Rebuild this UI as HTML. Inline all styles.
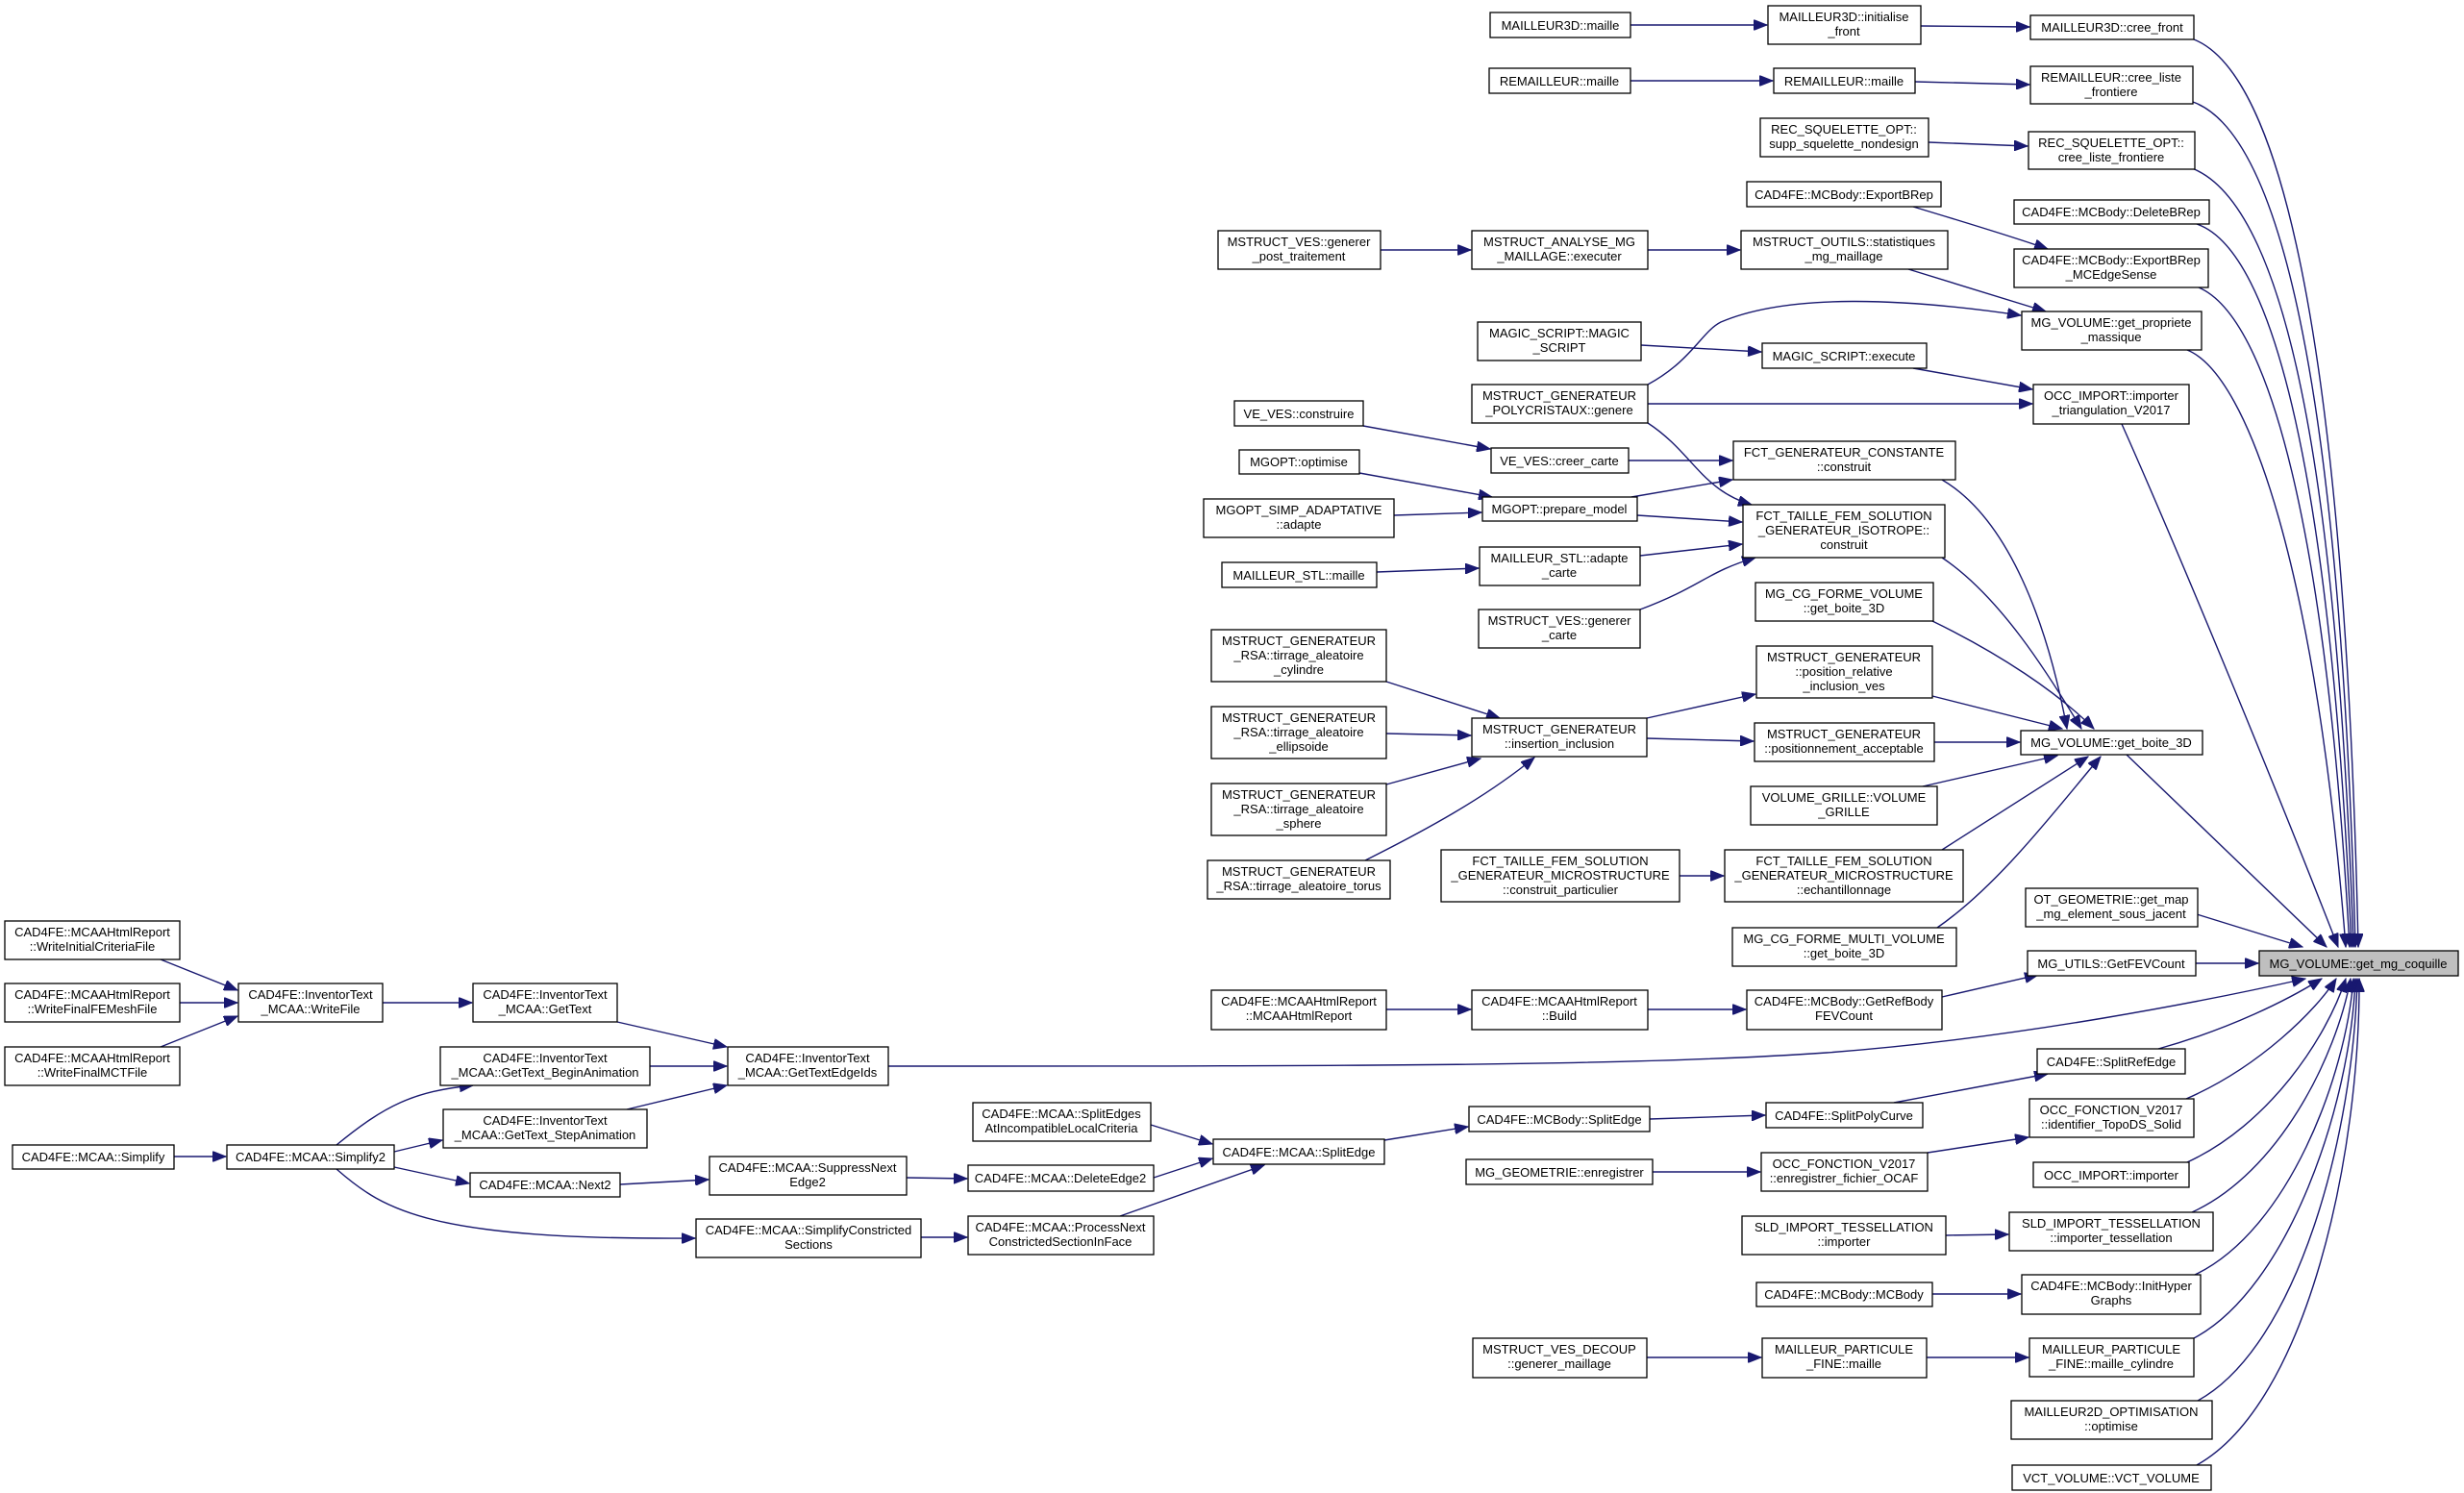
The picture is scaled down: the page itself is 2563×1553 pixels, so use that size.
<!DOCTYPE html>
<html><head><meta charset="utf-8"><style>
html,body{margin:0;padding:0;background:#fff;}
svg{display:block;}
text{font-family:"Liberation Sans",Arial,sans-serif;font-size:13px;fill:#000;text-anchor:middle;}
rect{fill:#fff;stroke:#000;stroke-width:1.3;}
path{fill:none;stroke:#191970;stroke-width:1.4;}
</style></head><body>
<svg width="2563" height="1553" viewBox="0 0 2563 1553" xmlns="http://www.w3.org/2000/svg">
<defs><marker id="a" markerUnits="userSpaceOnUse" markerWidth="15" markerHeight="11" refX="14" refY="5.5" orient="auto"><path d="M0,0 L14,5.5 L0,11 z" style="fill:#191970;stroke:#191970;stroke-width:1"/></marker></defs>
<g marker-end="url(#a)">
<path d="M2282,41 C2380,80 2440,400 2453,985"/>
<path d="M2281,106 C2375,140 2435,420 2450,985"/>
<path d="M2280,175 C2370,210 2430,450 2448,985"/>
<path d="M2285,233 C2365,260 2425,500 2446,985"/>
<path d="M2287,299 C2360,330 2420,550 2444,985"/>
<path d="M2275,364 C2340,390 2410,600 2440,985"/>
<path d="M2207,441 C2260,560 2360,800 2432,985"/>
<path d="M2212,785 L2420,985"/>
<path d="M2285,951 L2395,985"/>
<path d="M2284,1002 L2349,1002"/>
<path d="M924,1109 C1400,1109 1700,1109 1900,1095 C2100,1080 2300,1040 2398,1018"/>
<path d="M2245,1091 C2320,1070 2380,1040 2415,1018"/>
<path d="M2274,1143 C2350,1110 2410,1050 2430,1018"/>
<path d="M2275,1209 C2360,1170 2420,1080 2440,1018"/>
<path d="M2280,1261 C2370,1220 2430,1100 2445,1018"/>
<path d="M2283,1326 C2380,1280 2440,1120 2448,1018"/>
<path d="M2282,1392 C2380,1340 2445,1150 2450,1018"/>
<path d="M2286,1457 C2390,1400 2448,1180 2452,1018"/>
<path d="M2285,1524 C2400,1460 2455,1200 2454,1018"/>
<path d="M1696,26 L1838,26"/>
<path d="M1998,27 L2111,28"/>
<path d="M1696,84 L1844,84"/>
<path d="M1992,85 L2111,88"/>
<path d="M2006,148 L2109,152"/>
<path d="M1990,215 C2040,230 2090,245 2130,259"/>
<path d="M1436,260 L1530,260"/>
<path d="M1714,260 L1810,260"/>
<path d="M1985,280 L2128,324"/>
<path d="M1714,400 C1760,375 1770,345 1790,335 C1860,305 1980,310 2102,328"/>
<path d="M1707,359 L1832,366"/>
<path d="M1990,383 L2114,405"/>
<path d="M1714,420 L2114,420"/>
<path d="M1714,440 C1760,470 1770,510 1822,525"/>
<path d="M1418,443 L1550,467"/>
<path d="M1694,479 L1802,479"/>
<path d="M1414,492 L1552,517"/>
<path d="M1450,536 L1541,533"/>
<path d="M1697,517 L1802,499"/>
<path d="M1703,536 L1812,543"/>
<path d="M1432,595 L1538,591"/>
<path d="M1706,578 L1812,566"/>
<path d="M1706,634 C1770,610 1775,595 1826,580"/>
<path d="M2020,499 C2090,540 2130,650 2150,758"/>
<path d="M2020,580 C2080,620 2130,700 2165,758"/>
<path d="M2010,646 C2080,680 2140,720 2178,758"/>
<path d="M2010,724 L2145,758"/>
<path d="M2012,772 L2101,772"/>
<path d="M2000,818 L2140,786"/>
<path d="M2020,884 L2172,787"/>
<path d="M2015,965 C2080,920 2140,840 2185,787"/>
<path d="M1442,709 L1560,747"/>
<path d="M1442,763 L1530,765"/>
<path d="M1442,816 L1540,789"/>
<path d="M1420,895 C1480,865 1545,830 1596,788"/>
<path d="M1713,747 L1826,722"/>
<path d="M1713,768 L1824,771"/>
<path d="M1747,911 L1793,911"/>
<path d="M1442,1050 L1530,1050"/>
<path d="M1714,1050 L1816,1050"/>
<path d="M2020,1037 L2120,1014"/>
<path d="M1970,1147 L2130,1117"/>
<path d="M1716,1164 L1836,1160"/>
<path d="M1440,1186 L1527,1172"/>
<path d="M1197,1170 L1261,1190"/>
<path d="M1200,1225 L1261,1205"/>
<path d="M1165,1265 L1315,1212"/>
<path d="M1719,1219 L1831,1219"/>
<path d="M2005,1199 L2110,1183"/>
<path d="M2024,1285 L2089,1284"/>
<path d="M2010,1346 L2102,1346"/>
<path d="M1713,1412 L1832,1412"/>
<path d="M2004,1412 L2110,1412"/>
<path d="M167,998 L247,1030"/>
<path d="M187,1043 L247,1043"/>
<path d="M167,1089 L247,1057"/>
<path d="M398,1043 L491,1043"/>
<path d="M642,1063 L756,1089"/>
<path d="M676,1109 L756,1109"/>
<path d="M652,1154 L756,1129"/>
<path d="M181,1203 L235,1203"/>
<path d="M350,1191 C400,1150 430,1135 492,1129"/>
<path d="M410,1198 L460,1186"/>
<path d="M410,1214 L488,1231"/>
<path d="M645,1232 L737,1227"/>
<path d="M943,1225 L1006,1226"/>
<path d="M350,1216 C400,1260 450,1290 723,1288"/>
<path d="M958,1287 L1006,1287"/>
</g>
<rect x="2350" y="989" width="207" height="26" style="fill:#bfbfbf"/><text x="2453" y="1007">MG_VOLUME::get_mg_coquille</text>
<rect x="2112" y="16" width="170" height="25"/><text x="2197" y="33">MAILLEUR3D::cree_front</text>
<rect x="2112" y="69" width="169" height="39"/><text x="2196" y="85">REMAILLEUR::cree_liste</text><text x="2196" y="100">_frontiere</text>
<rect x="2110" y="137" width="173" height="39"/><text x="2196" y="153">REC_SQUELETTE_OPT::</text><text x="2196" y="168">cree_liste_frontiere</text>
<rect x="2095" y="208" width="203" height="25"/><text x="2196" y="225">CAD4FE::MCBody::DeleteBRep</text>
<rect x="2095" y="259" width="202" height="40"/><text x="2196" y="275">CAD4FE::MCBody::ExportBRep</text><text x="2196" y="290">_MCEdgeSense</text>
<rect x="2103" y="324" width="187" height="40"/><text x="2196" y="340">MG_VOLUME::get_propriete</text><text x="2196" y="355">_massique</text>
<rect x="2115" y="400" width="162" height="41"/><text x="2196" y="416">OCC_IMPORT::importer</text><text x="2196" y="431">_triangulation_V2017</text>
<rect x="2102" y="760" width="189" height="25"/><text x="2196" y="777">MG_VOLUME::get_boite_3D</text>
<rect x="2107" y="924" width="179" height="40"/><text x="2196" y="940">OT_GEOMETRIE::get_map</text><text x="2196" y="955">_mg_element_sous_jacent</text>
<rect x="2109" y="989" width="175" height="26"/><text x="2196" y="1007">MG_UTILS::GetFEVCount</text>
<rect x="2119" y="1091" width="154" height="26"/><text x="2196" y="1109">CAD4FE::SplitRefEdge</text>
<rect x="2111" y="1143" width="171" height="40"/><text x="2196" y="1159">OCC_FONCTION_V2017</text><text x="2196" y="1174">::identifier_TopoDS_Solid</text>
<rect x="2115" y="1209" width="162" height="26"/><text x="2196" y="1227">OCC_IMPORT::importer</text>
<rect x="2090" y="1261" width="212" height="40"/><text x="2196" y="1277">SLD_IMPORT_TESSELLATION</text><text x="2196" y="1292">::importer_tessellation</text>
<rect x="2103" y="1326" width="186" height="41"/><text x="2196" y="1342">CAD4FE::MCBody::InitHyper</text><text x="2196" y="1357">Graphs</text>
<rect x="2111" y="1392" width="171" height="40"/><text x="2196" y="1408">MAILLEUR_PARTICULE</text><text x="2196" y="1423">_FINE::maille_cylindre</text>
<rect x="2092" y="1457" width="209" height="40"/><text x="2196" y="1473">MAILLEUR2D_OPTIMISATION</text><text x="2196" y="1488">::optimise</text>
<rect x="2093" y="1524" width="207" height="26"/><text x="2196" y="1542">VCT_VOLUME::VCT_VOLUME</text>

<rect x="1839" y="6" width="159" height="40"/><text x="1918" y="22">MAILLEUR3D::initialise</text><text x="1918" y="37">_front</text>
<rect x="1845" y="71" width="147" height="26"/><text x="1918" y="89">REMAILLEUR::maille</text>
<rect x="1831" y="123" width="175" height="40"/><text x="1918" y="139">REC_SQUELETTE_OPT::</text><text x="1918" y="154">supp_squelette_nondesign</text>
<rect x="1817" y="189" width="202" height="26"/><text x="1918" y="207">CAD4FE::MCBody::ExportBRep</text>
<rect x="1811" y="240" width="215" height="40"/><text x="1918" y="256">MSTRUCT_OUTILS::statistiques</text><text x="1918" y="271">_mg_maillage</text>
<rect x="1833" y="357" width="171" height="26"/><text x="1918" y="375">MAGIC_SCRIPT::execute</text>
<rect x="1803" y="459" width="231" height="40"/><text x="1918" y="475">FCT_GENERATEUR_CONSTANTE</text><text x="1918" y="490">::construit</text>
<rect x="1813" y="525" width="210" height="55"/><text x="1918" y="541">FCT_TAILLE_FEM_SOLUTION</text><text x="1918" y="556">_GENERATEUR_ISOTROPE::</text><text x="1918" y="571">construit</text>
<rect x="1826" y="606" width="185" height="40"/><text x="1918" y="622">MG_CG_FORME_VOLUME</text><text x="1918" y="637">::get_boite_3D</text>
<rect x="1827" y="672" width="183" height="54"/><text x="1918" y="688">MSTRUCT_GENERATEUR</text><text x="1918" y="703">::position_relative</text><text x="1918" y="718">_inclusion_ves</text>
<rect x="1825" y="752" width="187" height="40"/><text x="1918" y="768">MSTRUCT_GENERATEUR</text><text x="1918" y="783">::positionnement_acceptable</text>
<rect x="1821" y="818" width="194" height="40"/><text x="1918" y="834">VOLUME_GRILLE::VOLUME</text><text x="1918" y="849">_GRILLE</text>
<rect x="1794" y="884" width="248" height="54"/><text x="1918" y="900">FCT_TAILLE_FEM_SOLUTION</text><text x="1918" y="915">_GENERATEUR_MICROSTRUCTURE</text><text x="1918" y="930">::echantillonnage</text>
<rect x="1802" y="965" width="233" height="40"/><text x="1918" y="981">MG_CG_FORME_MULTI_VOLUME</text><text x="1918" y="996">::get_boite_3D</text>
<rect x="1817" y="1030" width="203" height="41"/><text x="1918" y="1046">CAD4FE::MCBody::GetRefBody</text><text x="1918" y="1061">FEVCount</text>
<rect x="1837" y="1147" width="163" height="26"/><text x="1918" y="1165">CAD4FE::SplitPolyCurve</text>
<rect x="1832" y="1199" width="173" height="40"/><text x="1918" y="1215">OCC_FONCTION_V2017</text><text x="1918" y="1230">::enregistrer_fichier_OCAF</text>
<rect x="1812" y="1265" width="212" height="40"/><text x="1918" y="1281">SLD_IMPORT_TESSELLATION</text><text x="1918" y="1296">::importer</text>
<rect x="1827" y="1334" width="183" height="25"/><text x="1918" y="1351">CAD4FE::MCBody::MCBody</text>
<rect x="1833" y="1392" width="171" height="41"/><text x="1918" y="1408">MAILLEUR_PARTICULE</text><text x="1918" y="1423">_FINE::maille</text>

<rect x="1550" y="13" width="146" height="26"/><text x="1623" y="31">MAILLEUR3D::maille</text>
<rect x="1549" y="71" width="147" height="26"/><text x="1622" y="89">REMAILLEUR::maille</text>
<rect x="1531" y="240" width="183" height="40"/><text x="1622" y="256">MSTRUCT_ANALYSE_MG</text><text x="1622" y="271">_MAILLAGE::executer</text>
<rect x="1537" y="335" width="170" height="40"/><text x="1622" y="351">MAGIC_SCRIPT::MAGIC</text><text x="1622" y="366">_SCRIPT</text>
<rect x="1531" y="400" width="183" height="40"/><text x="1622" y="416">MSTRUCT_GENERATEUR</text><text x="1622" y="431">_POLYCRISTAUX::genere</text>
<rect x="1551" y="466" width="143" height="26"/><text x="1622" y="484">VE_VES::creer_carte</text>
<rect x="1542" y="517" width="161" height="25"/><text x="1622" y="534">MGOPT::prepare_model</text>
<rect x="1539" y="569" width="167" height="40"/><text x="1622" y="585">MAILLEUR_STL::adapte</text><text x="1622" y="600">_carte</text>
<rect x="1538" y="634" width="168" height="40"/><text x="1622" y="650">MSTRUCT_VES::generer</text><text x="1622" y="665">_carte</text>
<rect x="1531" y="747" width="182" height="40"/><text x="1622" y="763">MSTRUCT_GENERATEUR</text><text x="1622" y="778">::insertion_inclusion</text>
<rect x="1499" y="884" width="248" height="54"/><text x="1623" y="900">FCT_TAILLE_FEM_SOLUTION</text><text x="1623" y="915">_GENERATEUR_MICROSTRUCTURE</text><text x="1623" y="930">::construit_particulier</text>
<rect x="1531" y="1030" width="183" height="41"/><text x="1622" y="1046">CAD4FE::MCAAHtmlReport</text><text x="1622" y="1061">::Build</text>
<rect x="1528" y="1151" width="188" height="26"/><text x="1622" y="1169">CAD4FE::MCBody::SplitEdge</text>
<rect x="1525" y="1206" width="194" height="26"/><text x="1622" y="1224">MG_GEOMETRIE::enregistrer</text>
<rect x="1532" y="1392" width="181" height="41"/><text x="1622" y="1408">MSTRUCT_VES_DECOUP</text><text x="1622" y="1423">::generer_maillage</text>

<rect x="1267" y="240" width="169" height="40"/><text x="1351" y="256">MSTRUCT_VES::generer</text><text x="1351" y="271">_post_traitement</text>
<rect x="1284" y="417" width="134" height="26"/><text x="1351" y="435">VE_VES::construire</text>
<rect x="1289" y="468" width="125" height="25"/><text x="1351" y="485">MGOPT::optimise</text>
<rect x="1252" y="519" width="198" height="40"/><text x="1351" y="535">MGOPT_SIMP_ADAPTATIVE</text><text x="1351" y="550">::adapte</text>
<rect x="1271" y="585" width="161" height="26"/><text x="1351" y="603">MAILLEUR_STL::maille</text>
<rect x="1260" y="655" width="182" height="54"/><text x="1351" y="671">MSTRUCT_GENERATEUR</text><text x="1351" y="686">_RSA::tirrage_aleatoire</text><text x="1351" y="701">_cylindre</text>
<rect x="1260" y="735" width="182" height="54"/><text x="1351" y="751">MSTRUCT_GENERATEUR</text><text x="1351" y="766">_RSA::tirrage_aleatoire</text><text x="1351" y="781">_ellipsoide</text>
<rect x="1260" y="815" width="182" height="54"/><text x="1351" y="831">MSTRUCT_GENERATEUR</text><text x="1351" y="846">_RSA::tirrage_aleatoire</text><text x="1351" y="861">_sphere</text>
<rect x="1256" y="895" width="190" height="40"/><text x="1351" y="911">MSTRUCT_GENERATEUR</text><text x="1351" y="926">_RSA::tirrage_aleatoire_torus</text>
<rect x="1260" y="1030" width="182" height="41"/><text x="1351" y="1046">CAD4FE::MCAAHtmlReport</text><text x="1351" y="1061">::MCAAHtmlReport</text>
<rect x="1262" y="1185" width="178" height="26"/><text x="1351" y="1203">CAD4FE::MCAA::SplitEdge</text>

<rect x="1012" y="1147" width="185" height="40"/><text x="1104" y="1163">CAD4FE::MCAA::SplitEdges</text><text x="1104" y="1178">AtIncompatibleLocalCriteria</text>
<rect x="1007" y="1212" width="193" height="27"/><text x="1103" y="1230">CAD4FE::MCAA::DeleteEdge2</text>
<rect x="1007" y="1265" width="193" height="40"/><text x="1103" y="1281">CAD4FE::MCAA::ProcessNext</text><text x="1103" y="1296">ConstrictedSectionInFace</text>
<rect x="738" y="1203" width="205" height="40"/><text x="840" y="1219">CAD4FE::MCAA::SuppressNext</text><text x="840" y="1234">Edge2</text>
<rect x="724" y="1268" width="234" height="40"/><text x="841" y="1284">CAD4FE::MCAA::SimplifyConstricted</text><text x="841" y="1299">Sections</text>
<rect x="489" y="1220" width="156" height="25"/><text x="567" y="1237">CAD4FE::MCAA::Next2</text>
<rect x="757" y="1089" width="167" height="40"/><text x="840" y="1105">CAD4FE::InventorText</text><text x="840" y="1120">_MCAA::GetTextEdgeIds</text>
<rect x="492" y="1023" width="150" height="40"/><text x="567" y="1039">CAD4FE::InventorText</text><text x="567" y="1054">_MCAA::GetText</text>
<rect x="458" y="1089" width="218" height="40"/><text x="567" y="1105">CAD4FE::InventorText</text><text x="567" y="1120">_MCAA::GetText_BeginAnimation</text>
<rect x="461" y="1154" width="212" height="40"/><text x="567" y="1170">CAD4FE::InventorText</text><text x="567" y="1185">_MCAA::GetText_StepAnimation</text>
<rect x="248" y="1023" width="150" height="40"/><text x="323" y="1039">CAD4FE::InventorText</text><text x="323" y="1054">_MCAA::WriteFile</text>
<rect x="5" y="958" width="182" height="40"/><text x="96" y="974">CAD4FE::MCAAHtmlReport</text><text x="96" y="989">::WriteInitialCriteriaFile</text>
<rect x="5" y="1023" width="182" height="40"/><text x="96" y="1039">CAD4FE::MCAAHtmlReport</text><text x="96" y="1054">::WriteFinalFEMeshFile</text>
<rect x="5" y="1089" width="182" height="40"/><text x="96" y="1105">CAD4FE::MCAAHtmlReport</text><text x="96" y="1120">::WriteFinalMCTFile</text>
<rect x="13" y="1191" width="168" height="25"/><text x="97" y="1208">CAD4FE::MCAA::Simplify</text>
<rect x="236" y="1191" width="174" height="25"/><text x="323" y="1208">CAD4FE::MCAA::Simplify2</text>
</svg>
</body></html>
